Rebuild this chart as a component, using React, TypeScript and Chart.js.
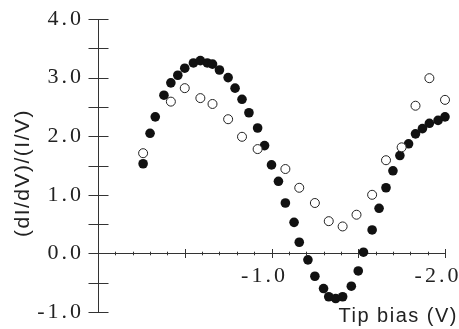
import React, { useEffect, useRef } from 'react';
import { Chart, registerables } from 'chart.js';

Chart.register(...registerables);

// Tip bias (V) and normalized conductance (dI/dV)/(I/V)
const filledBias = [
  -0.26, -0.30, -0.33, -0.38, -0.42, -0.46, -0.50, -0.55, -0.59, -0.63, -0.66,
  -0.70, -0.75, -0.79, -0.83, -0.87, -0.92, -0.96, -1.00, -1.04, -1.08, -1.13,
  -1.16, -1.21, -1.25, -1.30, -1.33, -1.37, -1.41, -1.46, -1.50, -1.53, -1.58,
  -1.62, -1.66, -1.70, -1.74, -1.79, -1.83, -1.87, -1.91, -1.96, -2.00,
];
const filledValue = [
  1.53, 2.05, 2.33, 2.70, 2.91, 3.04, 3.16, 3.25, 3.29, 3.25, 3.23,
  3.13, 3.00, 2.82, 2.63, 2.40, 2.14, 1.84, 1.51, 1.23, 0.86, 0.53,
  0.19, -0.11, -0.39, -0.60, -0.74, -0.77, -0.74, -0.56, -0.30, 0.02, 0.40,
  0.77, 1.12, 1.41, 1.67, 1.87, 2.04, 2.13, 2.22, 2.27, 2.33,
];
const openBias = [
  -0.26, -0.42, -0.50, -0.59, -0.66, -0.75, -0.83, -0.92, -1.08, -1.16,
  -1.25, -1.33, -1.41, -1.49, -1.58, -1.66, -1.75, -1.83, -1.91, -2.00,
];
const openValue = [
  1.71, 2.59, 2.82, 2.65, 2.55, 2.29, 1.99, 1.78, 1.44, 1.12,
  0.86, 0.55, 0.46, 0.66, 1.00, 1.59, 1.81, 2.52, 2.99, 2.62,
];

const yTickLabels = ['-1.0', '0.0', '1.0', '2.0', '3.0', '4.0'];
const xTickLabels = ['-1.0', '-2.0'];
const xTitle = 'Tip bias (V)';
const yTitle = '(dI/dV)/(I/V)';

const axisPlugin = {
  id: 'axisDecor',
  beforeDraw(chart: any) {
    chart.ctx.letterSpacing = '3px';
  },
  beforeDatasetsDraw(chart: any) {
    const ctx = chart.ctx;
    const xs = chart.scales.x;
    const ys = chart.scales.y;
    const x0 = Math.round(xs.getPixelForValue(0)) + 0.5;
    const y0 = Math.round(ys.getPixelForValue(0)) + 0.5;
    ctx.save();
    ctx.strokeStyle = '#333';
    ctx.lineWidth = 1;
    ctx.beginPath();
    for (const t of ys.ticks) {
      const py = Math.round(ys.getPixelForValue(t.value)) + 0.5;
      ctx.moveTo(x0 - 10, py);
      ctx.lineTo(x0 + 10, py);
    }
    for (const t of xs.ticks) {
      const px = Math.round(xs.getPixelForValue(t.value)) + 0.5;
      const major = Math.abs(t.value * 2 - Math.round(t.value * 2)) < 1e-6;
      const h = major ? 4.5 : 1.8;
      ctx.moveTo(px, y0 - h);
      ctx.lineTo(px, y0 + h);
    }
    ctx.stroke();
    ctx.restore();
  },
  afterDraw(chart: any) {
    const ctx = chart.ctx;
    ctx.save();
    ctx.letterSpacing = '1.5px';
    ctx.fillStyle = '#222';
    ctx.font = '20px "Liberation Sans", Arial, sans-serif';
    ctx.textAlign = 'right';
    ctx.textBaseline = 'alphabetic';
    ctx.fillText(xTitle, 458, 322);
    ctx.translate(23, 173);
    ctx.rotate(-Math.PI / 2);
    ctx.textAlign = 'center';
    ctx.textBaseline = 'middle';
    ctx.font = '21px "Liberation Sans", Arial, sans-serif';
    ctx.fillText(yTitle, 0, 0);
    ctx.restore();
    ctx.letterSpacing = '0px';
  },
};

export default function App() {
  const canvasRef = useRef<HTMLCanvasElement | null>(null);

  useEffect(() => {
    const canvas = canvasRef.current;
    if (!canvas) return;
    const tickFont = { family: '"Liberation Serif", "Times New Roman", serif', size: 22 };
    const chart = new Chart(canvas, {
      type: 'scatter',
      data: {
        datasets: [
          {
            label: 'open',
            data: openBias.map((b, i) => ({ x: b, y: openValue[i] })),
            backgroundColor: '#ffffff',
            borderColor: '#222',
            borderWidth: 1,
            pointRadius: 4.5,
            showLine: false,
            clip: false,
          },
          {
            label: 'filled',
            data: filledBias.map((b, i) => ({ x: b, y: filledValue[i] })),
            backgroundColor: '#111',
            borderColor: '#111',
            borderWidth: 0,
            pointRadius: 4.8,
            showLine: false,
            clip: false,
          },
        ],
      },
      options: {
        responsive: false,
        animation: false,
        events: [],
        layout: { padding: { left: 0, right: 14, top: 19, bottom: 17 } },
        plugins: {
          legend: { display: false },
          tooltip: { enabled: false },
        },
        scales: {
          x: {
            type: 'linear',
            position: { y: 0 } as any,
            min: -2,
            max: 0,
            reverse: true,
            grid: { display: false, drawTicks: false },
            border: { display: true, color: '#333', width: 1 },
            ticks: {
              stepSize: 0.1,
              autoSkip: false,
              maxRotation: 0,
              padding: 10,
              labelOffset: -7,
              color: '#222',
              font: tickFont,
              callback: (v: any) => {
                const s = Number(v).toFixed(1);
                return xTickLabels.includes(s) ? s : '';
              },
            },
            afterFit: (s: any) => {
              s.paddingLeft = 0;
              s.paddingRight = 0;
            },
          },
          y: {
            type: 'linear',
            position: 'left',
            min: -1,
            max: 4,
            grid: { display: false, drawTicks: false },
            border: { display: true, color: '#333', width: 1 },
            ticks: {
              stepSize: 0.5,
              autoSkip: false,
              padding: 14,
              color: '#222',
              font: tickFont,
              callback: (v: any) => {
                const s = Number(v).toFixed(1);
                return yTickLabels.includes(s) ? s : '';
              },
            },
            afterFit: (s: any) => {
              s.width = 98;
              s.paddingTop = 0;
              s.paddingBottom = 0;
            },
          },
        },
      },
      plugins: [axisPlugin],
    });
    return () => chart.destroy();
  }, []);

  return (
    <div style={{ position: 'absolute', left: 0, top: 0, width: 459, height: 329, background: '#fff' }}>
      <canvas ref={canvasRef} width={459} height={329} />
    </div>
  );
}
